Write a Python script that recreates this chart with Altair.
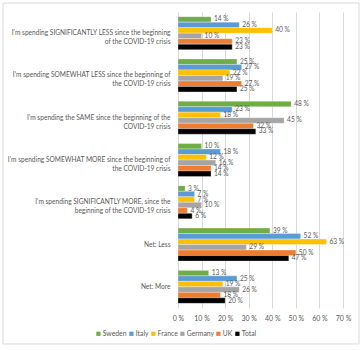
import altair as alt
import pandas as pd

categories = [
    "I'm spending SIGNIFICANTLY LESS since the beginning|of the COVID-19 crisis",
    "I'm spending SOMEWHAT LESS since the beginning of|the COVID-19 crisis",
    "I'm spending the SAME since the beginning of the|COVID-19 crisis",
    "I'm spending SOMEWHAT MORE since the beginning of|the COVID-19 crisis",
    "I'm spending SIGNIFICANTLY MORE, since the|beginning of the COVID-19 crisis",
    "Net: Less",
    "Net: More",
]
countries = ["Sweden", "Italy", "France", "Germany", "UK", "Total"]
colors = ["#70AD47", "#5B9BD5", "#FFC000", "#A5A5A5", "#ED7D31", "#000000"]

sweden = [14, 25, 48, 10, 3, 39, 13]
italy = [26, 27, 23, 18, 7, 52, 25]
france = [40, 22, 18, 12, 7, 63, 19]
germany = [10, 19, 45, 16, 10, 29, 26]
uk = [23, 27, 32, 14, 4, 50, 18]
total = [23, 25, 33, 14, 6, 47, 20]

x_ticks = [0, 10, 20, 30, 40, 50, 60, 70]

series = [sweden, italy, france, germany, uk, total]
rows = []
for c, vals in zip(countries, series):
    for cat, v in zip(categories, vals):
        rows.append({"category": cat, "country": c, "value": v, "label": f"{v} %"})
df = pd.DataFrame(rows)

FONT = "Lato"
TXT = "#595959"

x_enc = alt.X(
    "value:Q",
    scale=alt.Scale(domain=[0, 70], nice=False),
    axis=alt.Axis(
        title=None,
        values=x_ticks,
        labelExpr="datum.value + ' %'",
        labelFontSize=7,
        labelColor=TXT,
        labelFont=FONT,
        labelOverlap=False,
        labelFlush=False,
        grid=True,
        gridColor="#D9D9D9",
        ticks=False,
        domain=False,
        labelPadding=6,
    ),
)

y_enc = alt.Y(
    "category:N",
    sort=categories,
    scale=alt.Scale(paddingInner=0.22, paddingOuter=0.11),
    axis=alt.Axis(
        title=None,
        labelExpr="split(datum.label, '|')",
        labelFontSize=6.6,
        labelLineHeight=9,
        labelColor=TXT,
        labelFont=FONT,
        labelPadding=8,
        ticks=False,
        domain=False,
        labelLimit=300,
    ),
)
yoff = alt.YOffset("country:N", sort=countries, scale=alt.Scale(paddingInner=0))

bars = alt.Chart(df).mark_bar(stroke="white", strokeWidth=0.3).encode(
    x=x_enc,
    y=y_enc,
    yOffset=yoff,
    color=alt.Color(
        "country:N",
        sort=countries,
        scale=alt.Scale(domain=countries, range=colors),
        legend=alt.Legend(
            title=None,
            orient="none",
            direction="horizontal",
            legendX=-83,
            legendY=318,
            symbolType="square",
            symbolSize=18,
            symbolStrokeWidth=0,
            labelFontSize=6.8,
            labelColor=TXT,
            labelFont=FONT,
            columnPadding=1,
            symbolOffset=0,
            labelOffset=1,
        ),
    ),
)

texts = alt.Chart(df).mark_text(
    align="left", baseline="middle", dx=3, fontSize=6.6, color=TXT, font=FONT
).encode(
    x=x_enc,
    y=y_enc,
    yOffset=yoff,
    text="label:N",
)

frame = alt.Chart(pd.DataFrame({"a": [0]})).mark_rect(
    fill=None, stroke="#D9D9D9", strokeWidth=1
).encode(
    x=alt.value(-175), x2=alt.value(181), y=alt.value(-9), y2=alt.value(332)
)

chart = (
    alt.layer(frame, bars, texts)
    .properties(
        width=165,
        height=296,
        padding={"left": 178, "top": 12, "right": 19, "bottom": 42},
        autosize=alt.AutoSizeParams(type="none"),
        background="white",
    )
    .configure_view(stroke=None)
)

chart.save("out.html", embed_options={"renderer": "svg", "actions": False})
